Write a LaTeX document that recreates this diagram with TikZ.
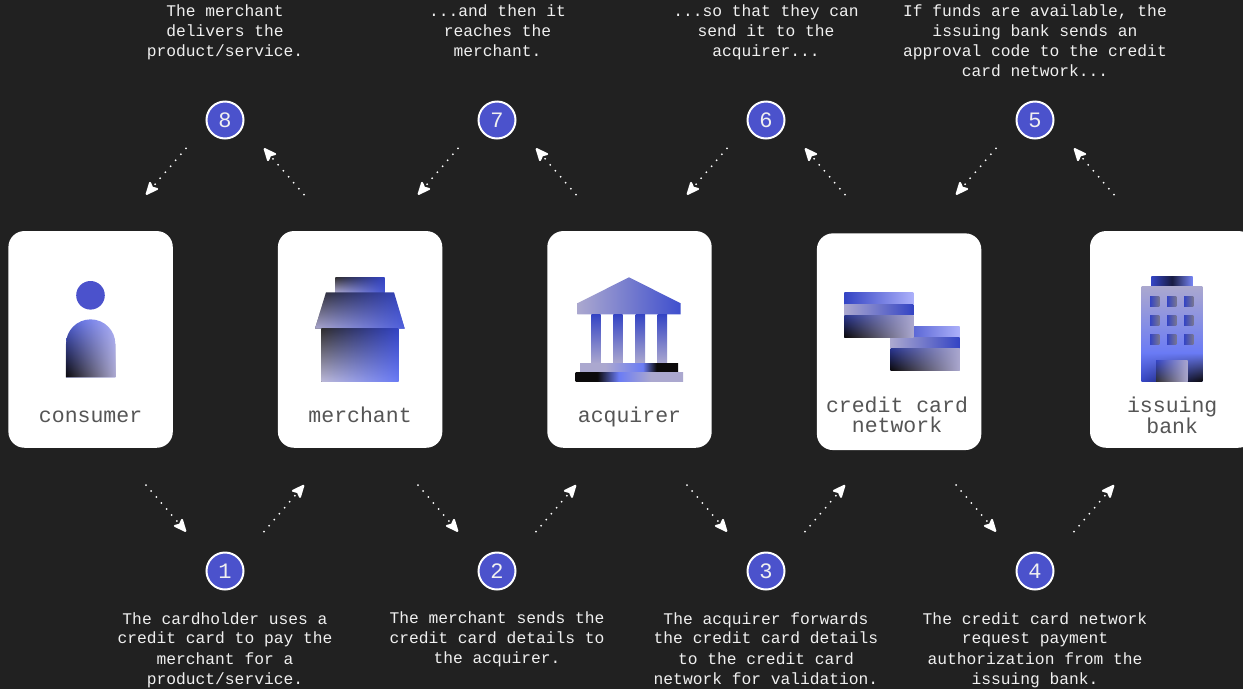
\documentclass[tikz,border=0pt]{standalone}
\usepackage{fontspec}
\setmainfont{Liberation Mono}
\usetikzlibrary{arrows.meta,fadings}
\definecolor{pagebg}{HTML}{212121}
\definecolor{dotblue}{HTML}{4B52CC}
\definecolor{royal}{HTML}{3444C4}
\definecolor{sky}{HTML}{6A7BF5}
\definecolor{pale}{HTML}{ACB0FA}
\definecolor{lilac}{HTML}{ABA8CF}
\definecolor{ink}{HTML}{0C0A0B}
\definecolor{navy}{HTML}{2A3690}
\definecolor{labelgrey}{HTML}{555555}
\definecolor{captionwhite}{HTML}{F0F0F0}
\pgfdeclarehorizontalshading{stepupper}{100bp}{color(0bp)=(lilac);color(38bp)=(lilac);color(57bp)=(sky);color(64bp)=(ink);color(100bp)=(ink)}
\pgfdeclarehorizontalshading{steplower}{100bp}{color(0bp)=(ink);color(35bp)=(ink);color(45bp)=(sky);color(60bp)=(lilac);color(100bp)=(lilac)}
\tikzset{
  cardbox/.style={fill=white,rounded corners=16pt,minimum width=164.4pt,minimum height=216.7pt,inner sep=0pt},
  cardlabel/.style={text=labelgrey,font=\fontsize{21.5}{20}\selectfont,align=center,inner sep=0pt},
  caption/.style={text=captionwhite,font=\fontsize{16.27}{20}\selectfont,align=center,inner sep=0pt,anchor=north},
  stepdot/.style={circle,fill=dotblue,draw=white,line width=2pt,minimum size=37pt,inner sep=0pt,text=captionwhite,font=\fontsize{22}{22}\selectfont},
  flowarrow/.style={white,line width=2pt,line cap=round,dash pattern=on 0pt off 7.9pt,-{Stealth[length=15pt,width=13pt,inset=3pt,round=false]}}
}
\newcommand{\tint}[5]{
  \path[left color=#2,right color=#3] #1;
  \path[left color=#4,right color=#5,path fading=north] #1;
}
\begin{document}
\begin{tikzpicture}[x=1pt,y=-1pt]
  \fill[pagebg] (0,0) rectangle (1243,689);
  \useasboundingbox (0,0) rectangle (1243,689);

  \node[cardbox] (consumer) at (90.6,339.4) {};
  \node[cardbox] (merchant) at (360.1,339.4) {};
  \node[cardbox] (acquirer) at (629.5,339.4) {};
  \node[cardbox] (network) at (899.1,341.7) {};
  \node[cardbox] (bank) at (1172.2,339.4) {};

  \node[cardlabel,anchor=base] (consumerlabel) at (90.6,422.6) {consumer};
  \node[cardlabel,anchor=base] (merchantlabel) at (360.1,422.6) {merchant};
  \node[cardlabel,anchor=base] (acquirerlabel) at (629.5,422.6) {acquirer};
  \node[cardlabel,anchor=north] (networklabel) at (897,397) {credit card\\network};
  \node[cardlabel,anchor=north] (banklabel) at (1172.2,397) {issuing\\bank};

  \fill[dotblue] (90.5,295.3) circle (14.3);
  \tint{(66,377.3) -- (66,344) arc[start angle=180,end angle=360,radius=24.65] -- (115.3,377.3) -- cycle}{royal!50!sky}{pale}{ink}{lilac}

  \tint{(335.3,277.3) rectangle (384.7,292.3)}{ink!85!white}{royal}{lilac}{royal!70!sky}
  \tint{(326,292.3) -- (394,292.3) -- (404.7,328.7) -- (315,328.7) -- cycle}{ink!85!white}{royal}{lilac}{royal!50!sky}
  \tint{(321.3,328.7) rectangle (398.3,381.3)}{ink!85!white}{royal}{lilac!80!white}{sky}

  \path[left color=lilac,right color=royal!80!sky] (629,277.3) -- (680.7,303.3) -- (680.7,314.3) -- (577.3,314.3) -- (577.3,303.3) -- cycle;
  \foreach \x in {591.3,613.3,635.7,657.7}
    \path[top color=royal,bottom color=lilac] (\x,314.3) rectangle (\x+9.4,363.3);
  \path[shading=stepupper] (580,363.3) rectangle (678,372.3);
  \path[shading=steplower] (575.7,372.3) rectangle (683,381.7);

  \foreach \x/\y in {890.7/326,844.3/292.7} {
    \path[left color=royal,right color=pale] (\x,\y) rectangle (\x+69,\y+11.3);
    \path[left color=lilac,right color=royal] (\x,\y+11.3) rectangle (\x+69,\y+22.3);
    \tint{(\x,\y+22.3) rectangle (\x+69,\y+44.3)}{navy}{lilac}{ink}{lilac}
  }

  \path[left color=royal,right color=sky!80!pale,middle color=ink!70!royal] (1151.3,276.7) rectangle (1192.7,286.3);
  \path[top color=lilac,bottom color=sky] (1141.7,286.3) rectangle (1202.3,353);
  \tint{(1141.7,352.8) rectangle (1202.3,381.7)}{sky}{sky}{royal}{ink}
  \foreach \y in {296.7,315.7,334.3}
    \foreach \x in {1150,1167,1184}
      \path[left color=royal,right color=lilac!70!black] (\x,\y) rectangle (\x+9.3,\y+10);
  \tint{(1156,360.3) rectangle (1187.7,381.7)}{royal}{lilac}{ink!85!white}{lilac}

  \foreach \num/\x in {8/225,7/497,6/766,5/1035} {
    \node[stepdot] (step\num) at (\x,120) {\num};
    \coordinate (step\num a) at (\x-39,148.3);
    \coordinate (step\num b) at (\x-79,194.7);
    \coordinate (step\num c) at (\x+79,194.7);
    \coordinate (step\num d) at (\x+39,148.3);
    \draw[flowarrow] (step\num a) -- (step\num b);
    \draw[flowarrow] (step\num c) -- (step\num d);
  }
  \foreach \num/\x in {1/225,2/497,3/766,4/1035} {
    \node[stepdot] (step\num) at (\x,571) {\num};
    \coordinate (step\num a) at (\x-79,485);
    \coordinate (step\num b) at (\x-39,531.7);
    \coordinate (step\num c) at (\x+39,531.7);
    \coordinate (step\num d) at (\x+79,485);
    \draw[flowarrow] (step\num a) -- (step\num b);
    \draw[flowarrow] (step\num c) -- (step\num d);
  }

  \node[caption] (text8) at (225,5) {The merchant\\delivers the\\product/service.};
  \node[caption] (text7) at (497.5,5) {...and then it\\reaches the\\merchant.};
  \node[caption] (text6) at (766,5) {...so that they can\\send it to the\\acquirer...};
  \node[caption] (text5) at (1035,5) {If funds are available, the\\issuing bank sends an\\approval code to the credit\\card network...};
  \node[caption] (text1) at (225,612) {The cardholder uses a\\credit card to pay the\\merchant for a\\product/service.};
  \node[caption] (text2) at (497,612) {The merchant sends the\\credit card details to\\the acquirer.};
  \node[caption] (text3) at (766,612) {The acquirer forwards\\the credit card details\\to the credit card\\network for validation.};
  \node[caption] (text4) at (1035,612) {The credit card network\\request payment\\authorization from the\\issuing bank.};
\end{tikzpicture}
\end{document}
